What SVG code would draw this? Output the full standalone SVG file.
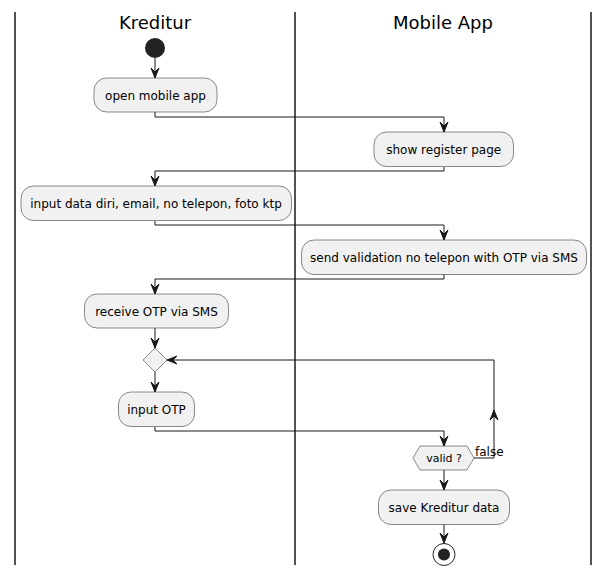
<svg xmlns="http://www.w3.org/2000/svg" width="610" height="577" viewBox="0 0 610 577">
<style>
  .lane { stroke: #181818; stroke-width: 1.5; fill: none; }
  .title { font-family: "DejaVu Sans", "Liberation Sans", sans-serif; font-size: 18px; fill: #000; text-anchor: middle; }
  .act rect, .act polygon { fill: #F1F1F1; stroke: #181818; stroke-width: 0.5; }
  .act text { font-family: "DejaVu Sans", "Liberation Sans", sans-serif; font-size: 12px; fill: #000; text-anchor: middle; }
  .small { font-family: "DejaVu Sans", "Liberation Sans", sans-serif; font-size: 11px; fill: #000; }
  .conn path { stroke: #181818; stroke-width: 1; fill: none; }
</style>
<defs>
  <marker id="arr" viewBox="-11 -5 12 10" refX="0" refY="0" markerWidth="12" markerHeight="10" markerUnits="userSpaceOnUse" orient="auto">
    <path d="M0,0 L-10,-4 L-6,0 L-10,4 Z" fill="#181818" stroke="#181818" stroke-width="1"/>
  </marker>
</defs>
<rect width="610" height="577" fill="#FFFFFF"/>
<g id="lanes">
  <line class="lane" x1="15" y1="12" x2="15" y2="565"/>
  <line class="lane" x1="295" y1="12" x2="295" y2="565"/>
  <line class="lane" x1="591" y1="12" x2="591" y2="565"/>
  <text class="title" x="155" y="29">Kreditur</text>
  <text class="title" x="443" y="29">Mobile App</text>
</g>
<g id="connectors" class="conn">
  <path d="M155,58 V78" marker-end="url(#arr)"/>
  <path d="M155,112 V117 H444 V132" marker-end="url(#arr)"/>
  <path d="M444,167 V171 H155 V186" marker-end="url(#arr)"/>
  <path d="M155,221 V225 H444 V240" marker-end="url(#arr)"/>
  <path d="M444,274 V279 H155 V294" marker-end="url(#arr)"/>
  <path d="M155,328 V348" marker-end="url(#arr)"/>
  <path d="M155,372 V392" marker-end="url(#arr)"/>
  <path d="M155,427 V431 H444 V446" marker-end="url(#arr)"/>
  <path d="M474,458 H494 V410" marker-end="url(#arr)"/>
  <path d="M494,410 V360 H167" marker-end="url(#arr)"/>
  <path d="M444,470 V490" marker-end="url(#arr)"/>
  <path d="M444,524 V543" marker-end="url(#arr)"/>
</g>
<g id="start">
  <circle cx="155" cy="48" r="10" fill="#222222"/>
</g>
<g id="open_app" class="act">
  <rect x="94" y="78" width="123" height="34" rx="12.5" ry="12.5"/>
  <text x="155.5" y="100">open mobile app</text>
</g>
<g id="show_register" class="act">
  <rect x="374" y="132" width="139.5" height="34.5" rx="12.5" ry="12.5"/>
  <text x="443.7" y="154">show register page</text>
</g>
<g id="input_data" class="act">
  <rect x="21" y="186" width="270.5" height="34.5" rx="12.5" ry="12.5"/>
  <text x="156" y="208">input data diri, email, no telepon, foto ktp</text>
</g>
<g id="send_validation" class="act">
  <rect x="301.5" y="240" width="285" height="34.5" rx="12.5" ry="12.5"/>
  <text x="444" y="262">send validation no telepon with OTP via SMS</text>
</g>
<g id="receive_otp" class="act">
  <rect x="84.5" y="294" width="144" height="34" rx="12.5" ry="12.5"/>
  <text x="156.5" y="316">receive OTP via SMS</text>
</g>
<g id="merge" class="act">
  <polygon points="155,348 167,360 155,372 143,360"/>
</g>
<g id="input_otp" class="act">
  <rect x="118.5" y="392" width="76" height="34.5" rx="12.5" ry="12.5"/>
  <text x="156.5" y="414">input OTP</text>
</g>
<g id="valid" class="act">
  <polygon points="413,458 420,446 467,446 474,458 467,470 420,470"/>
  <text x="444" y="462" style="font-size:11px">valid ?</text>
  <text class="small" x="475" y="455.5" style="text-anchor:start">false</text>
</g>
<g id="save_data" class="act">
  <rect x="378.5" y="490" width="131" height="34.5" rx="12.5" ry="12.5"/>
  <text x="444" y="512">save Kreditur data</text>
</g>
<g id="end">
  <circle cx="444" cy="554.5" r="11" fill="none" stroke="#222222" stroke-width="1"/>
  <circle cx="444" cy="554.5" r="6" fill="#222222"/>
</g>
</svg>
